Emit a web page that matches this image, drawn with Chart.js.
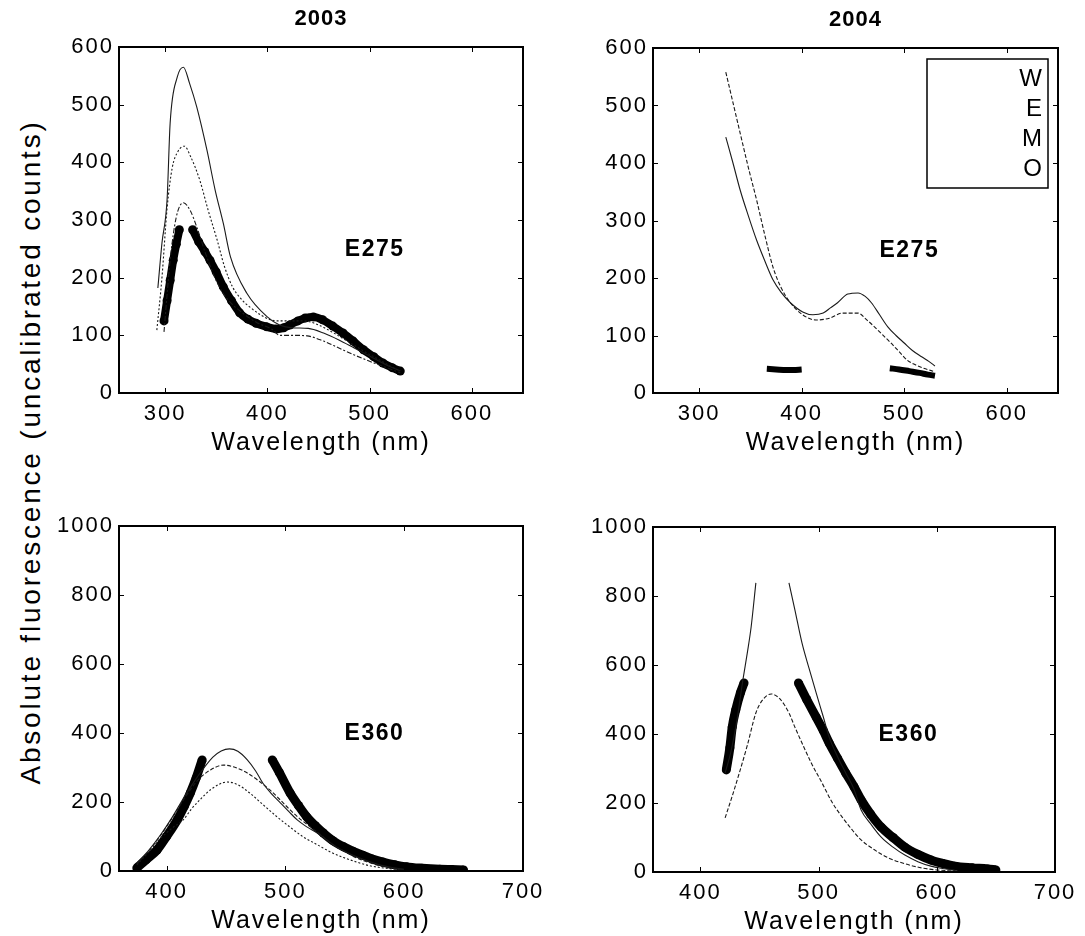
<!DOCTYPE html>
<html>
<head>
<meta charset="utf-8">
<script src="https://cdn.jsdelivr.net/npm/chart.js@4.4.1/dist/chart.umd.min.js"></script>
<style>
  html, body { margin: 0; padding: 0; background: #fff; overflow: hidden; }
  #page { position: relative; width: 1085px; height: 936px; overflow: hidden; }
  canvas { position: absolute; }
  #ylabel {
    position: absolute; left: -370px; top: 437px; width: 800px; height: 30px;
    line-height: 30px; text-align: center; white-space: nowrap;
    font: 28px "Liberation Sans", Arial, sans-serif; letter-spacing: 2.8px;
    transform: rotate(-90deg); color: #000;
  }
</style>
</head>
<body>
<div id="page">
  <div id="ylabel">Absolute fluorescence (uncalibrated counts)</div>
  <canvas id="c1" width="504" height="456" style="left:49px;top:2px"></canvas>
  <canvas id="c2" width="505" height="455" style="left:583px;top:3px"></canvas>
  <canvas id="c3" width="504" height="455" style="left:49px;top:481px"></canvas>
  <canvas id="c4" width="502" height="455" style="left:583px;top:482px"></canvas>
</div>
<script>
// wavelength (nm), counts  -- null marks a gap in the trace
const ex275_2003_W = [[293,182],[297,260],[302,335],[305,468],[312,548],[318,565],[324,537],[331,496],[341,421],[349,352],[357,294],[364,236],[380,173],[400,132],[412,118],[425,113],[440,112],[455,104],[470,92],[485,78],[500,64],[515,50],[530,38]];
const ex275_2003_E = [[292,109],[297,200],[302,320],[307,390],[313,420],[319,428],[325,410],[334,369],[342,318],[351,265],[358,220],[366,184],[375,162],[383,149],[393,136],[403,127],[410,125],[420,125],[436,125],[450,118],[465,104],[480,88],[495,72],[510,57],[520,47],[530,38]];
const ex275_2003_M = [[299,106],[305,230],[311,305],[318,330],[325,315],[331,288],[340,240],[350,195],[360,165],[375,140],[390,122],[405,110],[412,100],[425,100],[439,99],[455,90],[470,78],[485,66],[500,55],[515,45],[530,35]];
const ex275_2003_O = [[299,125],[302,160],[305,195],[308,230],[311,258],[314,283],[320,null],[327,283],[333,262],[339,245],[344,230],[350,210],[357,184],[365,160],[373,139],[381,128],[389,121],[399,115],[409,111],[416,113],[422,118],[430,125],[437,130],[445,132],[454,127],[464,116],[474,104],[484,90],[494,75],[504,63],[513,52],[522,44],[530,38]];

const ex275_2004_W = [[326,445],[333,400],[340,353],[348,308],[356,266],[364,230],[372,197],[380,175],[389,157],[401,141],[411,136],[421,139],[428,148],[435,157],[445,172],[455,174],[462,168],[468,157],[476,136],[484,115],[492,100],[500,87],[508,74],[517,63],[524,55],[530,47]];
const ex275_2004_E = [[326,558],[333,505],[340,452],[348,392],[356,336],[364,275],[372,219],[380,183],[389,157],[401,136],[414,127],[427,130],[440,139],[455,139],[463,128],[471,115],[479,101],[487,87],[495,72],[503,57],[511,49],[519,43],[530,37]];
const ex275_2004_O = [[366,42],[375,41],[385,40],[392,40],[400,41],[440,null],[486,43],[495,41],[505,38],[515,35],[523,32],[530,30]];

const ex360_2003_W = [[375,23],[385,60],[395,105],[405,157],[415,215],[426,273],[439,330],[446,348],[453,354],[460,347],[468,322],[475,290],[481,255],[488,225],[496,197],[503,172],[510,148],[518,128],[527,110],[535,90],[543,70],[551,55],[560,41],[570,28],[580,17],[590,10],[600,5]];
const ex360_2003_E = [[375,20],[385,58],[395,103],[405,155],[415,210],[426,262],[437,293],[448,307],[458,300],[468,284],[478,260],[487,235],[496,205],[504,177],[512,152],[521,128],[530,104],[538,81],[549,58],[560,38],[570,25],[580,15],[590,8],[600,4]];
const ex360_2003_M = [[375,18],[385,55],[395,95],[405,125],[414,148],[421,180],[428,206],[438,238],[451,258],[460,250],[470,226],[481,193],[493,157],[504,127],[515,99],[527,76],[538,55],[549,39],[560,26],[570,16],[580,10],[590,6],[600,3]];
const ex360_2003_O = [[375,9],[383,33],[392,61],[400,100],[409,148],[415,188],[420,226],[425,270],[430,322],[460,null],[489,322],[495,285],[504,226],[511,190],[518,157],[525,132],[532,110],[540,88],[549,70],[557,57],[565,46],[573,35],[582,26],[592,18],[602,12],[615,8],[630,5],[640,4],[650,3]];

const ex360_2004_W = [[421,287],[426,350],[431,440],[436,556],[440,640],[443,710],[447,838],[460,null],[475,838],[480,760],[486,664],[492,590],[498,519],[504,450],[509,391],[516,335],[523,287],[530,240],[536,180],[544,140],[553,101],[563,72],[573,49],[584,30],[595,17],[605,10],[615,6]];
const ex360_2004_E = [[421,157],[427,220],[433,287],[440,370],[447,461],[453,500],[460,516],[467,503],[475,461],[480,420],[486,374],[494,315],[503,258],[511,205],[520,159],[528,124],[536,93],[547,65],[559,41],[573,24],[587,12],[600,6],[615,3]];
const ex360_2004_O = [[422,296],[425,360],[427,420],[430,470],[434,520],[437,548],[460,null],[483,548],[490,500],[498,449],[504,410],[509,374],[516,330],[523,287],[530,247],[536,209],[544,168],[553,130],[563,100],[573,72],[584,51],[595,35],[605,25],[615,17],[630,12],[643,9],[650,6]];

const years = ['2003', '2004'];
const tags = ['E275', 'E360'];
const legendLabels = ['W', 'E', 'M', 'O'];
const xTicksTop = [300, 400, 500, 600];
const xTicksBottom = [400, 500, 600, 700];
const yTicksTop = [0, 100, 200, 300, 400, 500, 600];
const yTicksBottom = [0, 200, 400, 600, 800, 1000];
const xLabel = 'Wavelength (nm)';

const FONT = '"Liberation Sans", Arial, sans-serif';

function xy(pairs) { return pairs.map(p => ({x: p[0], y: p[1]})); }

function thin(pairs, dash) {
  return { data: xy(pairs), borderColor: '#1a1a1a', borderWidth: 1.1, borderDash: dash,
           pointRadius: 0, cubicInterpolationMode: 'monotone', spanGaps: false };
}
function thick(pairs, w, r) {
  return { data: xy(pairs), borderColor: '#000', borderWidth: w, pointRadius: r,
           pointBackgroundColor: '#000', pointBorderWidth: 0,
           cubicInterpolationMode: 'monotone', spanGaps: false };
}

const frame = {
  id: 'frame',
  beforeDraw(chart) { chart.ctx.letterSpacing = '2px'; },
  afterDraw(chart, args, o) {
    const ctx = chart.ctx, a = chart.chartArea, sx = chart.scales.x, sy = chart.scales.y;
    ctx.save();
    ctx.strokeStyle = '#000';
    ctx.lineWidth = 1;
    ctx.beginPath();
    sx.ticks.forEach(t => {
      const p = Math.round(sx.getPixelForValue(t.value)) + 0.5;
      ctx.moveTo(p, a.bottom); ctx.lineTo(p, a.bottom - 5);
      ctx.moveTo(p, a.top); ctx.lineTo(p, a.top + 5);
    });
    sy.ticks.forEach(t => {
      const p = Math.round(sy.getPixelForValue(t.value)) + 0.5;
      ctx.moveTo(a.left, p); ctx.lineTo(a.left + 5, p);
      ctx.moveTo(a.right, p); ctx.lineTo(a.right - 5, p);
    });
    ctx.stroke();
    ctx.lineWidth = 2;
    ctx.strokeRect(a.left, a.top, a.width, a.height);

    ctx.fillStyle = '#000';
    ctx.textAlign = 'center';
    ctx.textBaseline = 'middle';
    ctx.letterSpacing = '1px';
    if (o.title) {
      ctx.font = 'bold 22px ' + FONT;
      ctx.fillText(o.title, (a.left + a.right) / 2, a.top - 28);
    }
    ctx.letterSpacing = '2px';
    ctx.font = '25px ' + FONT;
    ctx.fillText(xLabel, (a.left + a.right) / 2, a.bottom + 50);

    ctx.letterSpacing = '1.5px';
    ctx.font = 'bold 23px ' + FONT;
    ctx.fillText(o.tag, sx.getPixelForValue(o.tagAt[0]), sy.getPixelForValue(o.tagAt[1]));

    if (o.legend) {
      const bx = a.right - 131, by = a.top + 11, bw = 121, bh = 129;
      ctx.fillStyle = '#fff';
      ctx.fillRect(bx, by, bw, bh);
      ctx.lineWidth = 1.5;
      ctx.strokeRect(bx, by, bw, bh);
      ctx.fillStyle = '#000';
      ctx.textAlign = 'right';
      ctx.letterSpacing = '0px';
      ctx.font = '24px ' + FONT;
      o.legend.forEach((s, i) => ctx.fillText(s, bx + bw - 6, by + 20 + i * 30));
    }
    ctx.restore();
  }
};

function makeChart(id, datasets, xr, xt, yr, yt, opts) {
  return new Chart(document.getElementById(id), {
    type: 'line',
    data: { datasets: datasets },
    plugins: [frame],
    options: {
      responsive: false, animation: false, devicePixelRatio: 1,
      layout: { padding: { top: 45, right: 30, left: 0, bottom: 0 }, autoPadding: false },
      plugins: { legend: { display: false }, tooltip: { enabled: false }, frame: opts },
      scales: {
        x: {
          type: 'linear', min: xr[0], max: xr[1],
          afterBuildTicks: s => { s.ticks = xt.map(v => ({value: v})); },
          grid: { display: false, drawTicks: false }, border: { display: false },
          ticks: { color: '#000', font: { size: 22, family: FONT }, padding: 8, maxRotation: 0, autoSkip: false,
                   callback: v => String(v) },
          afterFit: s => { s.height = 65; s.paddingLeft = 0; s.paddingRight = 0; }
        },
        y: {
          min: yr[0], max: yr[1],
          afterBuildTicks: s => { s.ticks = yt.map(v => ({value: v})); },
          grid: { display: false, drawTicks: false }, border: { display: false },
          ticks: { color: '#000', font: { size: 22, family: FONT }, padding: 5, autoSkip: false,
                   callback: v => String(v) },
          afterFit: s => { s.width = 70; s.paddingTop = 0; s.paddingBottom = 0; }
        }
      }
    }
  });
}

makeChart('c1', [
  thin(ex275_2003_W, []), thin(ex275_2003_E, [2, 2]), thin(ex275_2003_M, [5, 2, 2, 2]),
  thick(ex275_2003_O, 8, 4.5)
], [255, 650], xTicksTop, [0, 600], yTicksTop, { title: years[0], tag: tags[0], tagAt: [505, 248] });

makeChart('c2', [
  thin(ex275_2004_W, []), thin(ex275_2004_E, [4, 2]), thick(ex275_2004_O, 6, 0)
], [255, 650], xTicksTop, [0, 600], yTicksTop, { title: years[1], tag: tags[0], tagAt: [505, 248], legend: legendLabels });

makeChart('c3', [
  thin(ex360_2003_W, []), thin(ex360_2003_E, [4, 2]), thin(ex360_2003_M, [2, 2]),
  thick(ex360_2003_O, 9, 4.5)
], [360, 700], xTicksBottom, [0, 1000], yTicksBottom, { tag: tags[1], tagAt: [575, 398] });

makeChart('c4', [
  thin(ex360_2004_W, []), thin(ex360_2004_E, [4, 2]), thick(ex360_2004_O, 9, 4.5)
], [360, 700], xTicksBottom, [0, 1000], yTicksBottom, { tag: tags[1], tagAt: [576, 398] });
</script>
</body>
</html>
